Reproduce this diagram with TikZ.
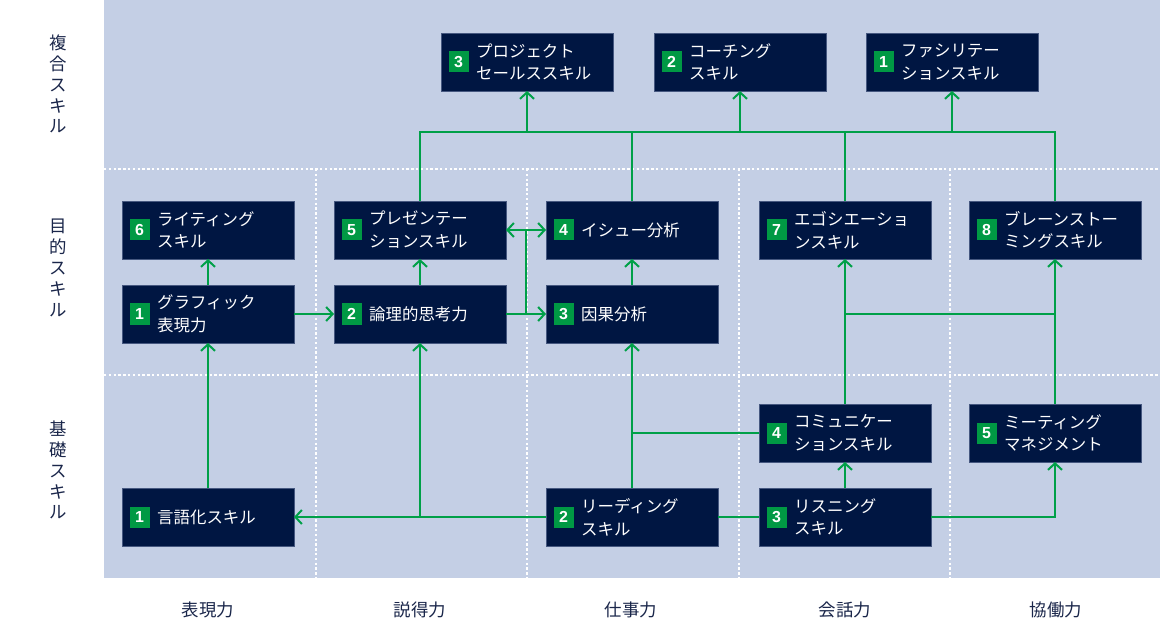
\documentclass[tikz,border=0pt]{standalone}
\usepackage{fontspec}
\setmainfont{Noto Sans CJK JP}
\newfontfamily\numfont{Liberation Sans}
\usetikzlibrary{arrows.meta,calc}
\definecolor{panelblue}{RGB}{196,207,229}
\definecolor{navy}{RGB}{0,22,66}
\definecolor{navyline}{RGB}{70,88,128}
\definecolor{skillgreen}{RGB}{0,153,68}
\definecolor{linkgreen}{RGB}{0,160,72}
\definecolor{labelnavy}{RGB}{26,38,74}
\tikzset{
  skill/.style={draw=navyline,line width=0.6bp,fill=navy,minimum width=172bp,minimum height=58bp,inner sep=0pt,outer sep=0pt},
  badge/.style={fill=skillgreen,text=white,font=\numfont\bfseries\fontsize{16}{16}\selectfont,minimum width=20bp,minimum height=21bp,inner sep=0pt},
  skilltext/.style={text=white,align=left,font=\fontsize{16.5}{23}\selectfont,inner sep=0pt,anchor=west},
  link/.style={draw=linkgreen,line width=2bp},
  grid/.style={white,line width=2.4bp,dash pattern=on 2.4bp off 2.4bp},
  rowlabel/.style={text=labelnavy,align=center,font=\fontsize{17.5}{21}\selectfont},
  collabel/.style={text=labelnavy,font=\fontsize{17.5}{20}\selectfont},
}
\begin{document}
\begin{tikzpicture}[x=1bp,y=-1bp,>={Straight Barb[length=6.5bp,width=14bp]}]
\useasboundingbox (0,0) rectangle (1160,623);
% panel and dotted grid
\fill[panelblue] (104,0) rectangle (1160,578);
\draw[grid] (104,169) -- (1160,169);
\draw[grid] (104,375) -- (1160,375);
\foreach \gx in {316,527,739,950}
  \draw[grid] (\gx,169) -- (\gx,578);
% row and column labels
\node[rowlabel] (row-fukugo) at (58,84) {複\\合\\ス\\キ\\ル};
\node[rowlabel] (row-mokuteki) at (58,268) {目\\的\\ス\\キ\\ル};
\node[rowlabel] (row-kiso) at (58,470) {基\\礎\\ス\\キ\\ル};
\node[collabel] (col-hyogen) at (208,610) {表現力};
\node[collabel] (col-settoku) at (420,610) {説得力};
\node[collabel] (col-shigoto) at (631,610) {仕事力};
\node[collabel] (col-kaiwa) at (845,610) {会話力};
\node[collabel] (col-kyodo) at (1056,610) {協働力};
% skill boxes
\node[skill] (proj) at (527,62) {};
\node[skill] (coach) at (740,62) {};
\node[skill] (facil) at (952,62) {};
\node[skill] (writing) at (208,230) {};
\node[skill] (graphic) at (208,314) {};
\node[skill] (present) at (420,230) {};
\node[skill] (logic) at (420,314) {};
\node[skill] (issue) at (632,230) {};
\node[skill] (causal) at (632,314) {};
\node[skill] (nego) at (845,230) {};
\node[skill] (brain) at (1055,230) {};
\node[skill] (comm) at (845,433) {};
\node[skill] (meeting) at (1055,433) {};
\node[skill] (verbal) at (208,517) {};
\node[skill] (reading) at (632,517) {};
\node[skill] (listening) at (845,517) {};
% badges
\node[badge] (proj-n) at ([xshift=17.5bp]proj.west) {3};
\node[badge] (coach-n) at ([xshift=17.5bp]coach.west) {2};
\node[badge] (facil-n) at ([xshift=17.5bp]facil.west) {1};
\node[badge] (writing-n) at ([xshift=17.5bp]writing.west) {6};
\node[badge] (graphic-n) at ([xshift=17.5bp]graphic.west) {1};
\node[badge] (present-n) at ([xshift=17.5bp]present.west) {5};
\node[badge] (logic-n) at ([xshift=17.5bp]logic.west) {2};
\node[badge] (issue-n) at ([xshift=17.5bp]issue.west) {4};
\node[badge] (causal-n) at ([xshift=17.5bp]causal.west) {3};
\node[badge] (nego-n) at ([xshift=17.5bp]nego.west) {7};
\node[badge] (brain-n) at ([xshift=17.5bp]brain.west) {8};
\node[badge] (comm-n) at ([xshift=17.5bp]comm.west) {4};
\node[badge] (meeting-n) at ([xshift=17.5bp]meeting.west) {5};
\node[badge] (verbal-n) at ([xshift=17.5bp]verbal.west) {1};
\node[badge] (reading-n) at ([xshift=17.5bp]reading.west) {2};
\node[badge] (listening-n) at ([xshift=17.5bp]listening.west) {3};
% box texts
\node[skilltext] (proj-t) at ([xshift=35bp]proj.west) {プロジェクト\\セールススキル};
\node[skilltext] (coach-t) at ([xshift=35bp]coach.west) {コーチング\\スキル};
\node[skilltext] (facil-t) at ([xshift=35bp]facil.west) {ファシリテー\\ションスキル};
\node[skilltext] (writing-t) at ([xshift=35bp]writing.west) {ライティング\\スキル};
\node[skilltext] (graphic-t) at ([xshift=35bp]graphic.west) {グラフィック\\表現力};
\node[skilltext] (present-t) at ([xshift=35bp]present.west) {プレゼンテー\\ションスキル};
\node[skilltext] (logic-t) at ([xshift=35bp]logic.west) {論理的思考力};
\node[skilltext] (issue-t) at ([xshift=35bp]issue.west) {イシュー分析};
\node[skilltext] (causal-t) at ([xshift=35bp]causal.west) {因果分析};
\node[skilltext] (nego-t) at ([xshift=35bp]nego.west) {エゴシエーショ\\ンスキル};
\node[skilltext] (brain-t) at ([xshift=35bp]brain.west) {ブレーンストー\\ミングスキル};
\node[skilltext] (comm-t) at ([xshift=35bp]comm.west) {コミュニケー\\ションスキル};
\node[skilltext] (meeting-t) at ([xshift=35bp]meeting.west) {ミーティング\\マネジメント};
\node[skilltext] (verbal-t) at ([xshift=35bp]verbal.west) {言語化スキル};
\node[skilltext] (reading-t) at ([xshift=35bp]reading.west) {リーディング\\スキル};
\node[skilltext] (listening-t) at ([xshift=35bp]listening.west) {リスニング\\スキル};
% connectors
\coordinate (bus) at (0,132);
\coordinate (jn) at ($(logic.east)!0.5!(causal.west)$);
\draw[link] (present.north) -- (present.north |- bus) -- (brain.north |- bus) -- (brain.north);
\draw[link] (issue.north) -- (issue.north |- bus);
\draw[link] (nego.north) -- (nego.north |- bus);
\draw[link,->] (proj.south |- bus) -- (proj);
\draw[link,->] (coach.south |- bus) -- (coach);
\draw[link,->] (facil.south |- bus) -- (facil);
\draw[link,->] (graphic) -- (writing);
\draw[link,->] (verbal) -- (graphic);
\draw[link,->] (graphic) -- (logic);
\draw[link,->] (logic) -- (present);
\draw[link,->] (logic) -- (causal);
\draw[link,<->] (present.east) -- (issue.west);
\draw[link] (jn) -- (jn |- present.east);
\draw[link,->] (causal) -- (issue);
\draw[link,->] (reading) -- (causal);
\draw[link] (comm.west) -- (comm.west -| reading.north);
\draw[link,->] (reading) -- (verbal);
\draw[link,->] (logic.south |- reading.west) -- (logic.south);
\draw[link] (reading) -- (listening);
\draw[link,->] (listening) -- (comm);
\draw[link,->] (listening.east) -| (meeting.south);
\draw[link,->] (comm) -- (nego);
\draw[link,->] (meeting) -- (brain);
\draw[link] (nego.south |- causal.east) -- (brain.south |- causal.east);
\end{tikzpicture}
\end{document}
